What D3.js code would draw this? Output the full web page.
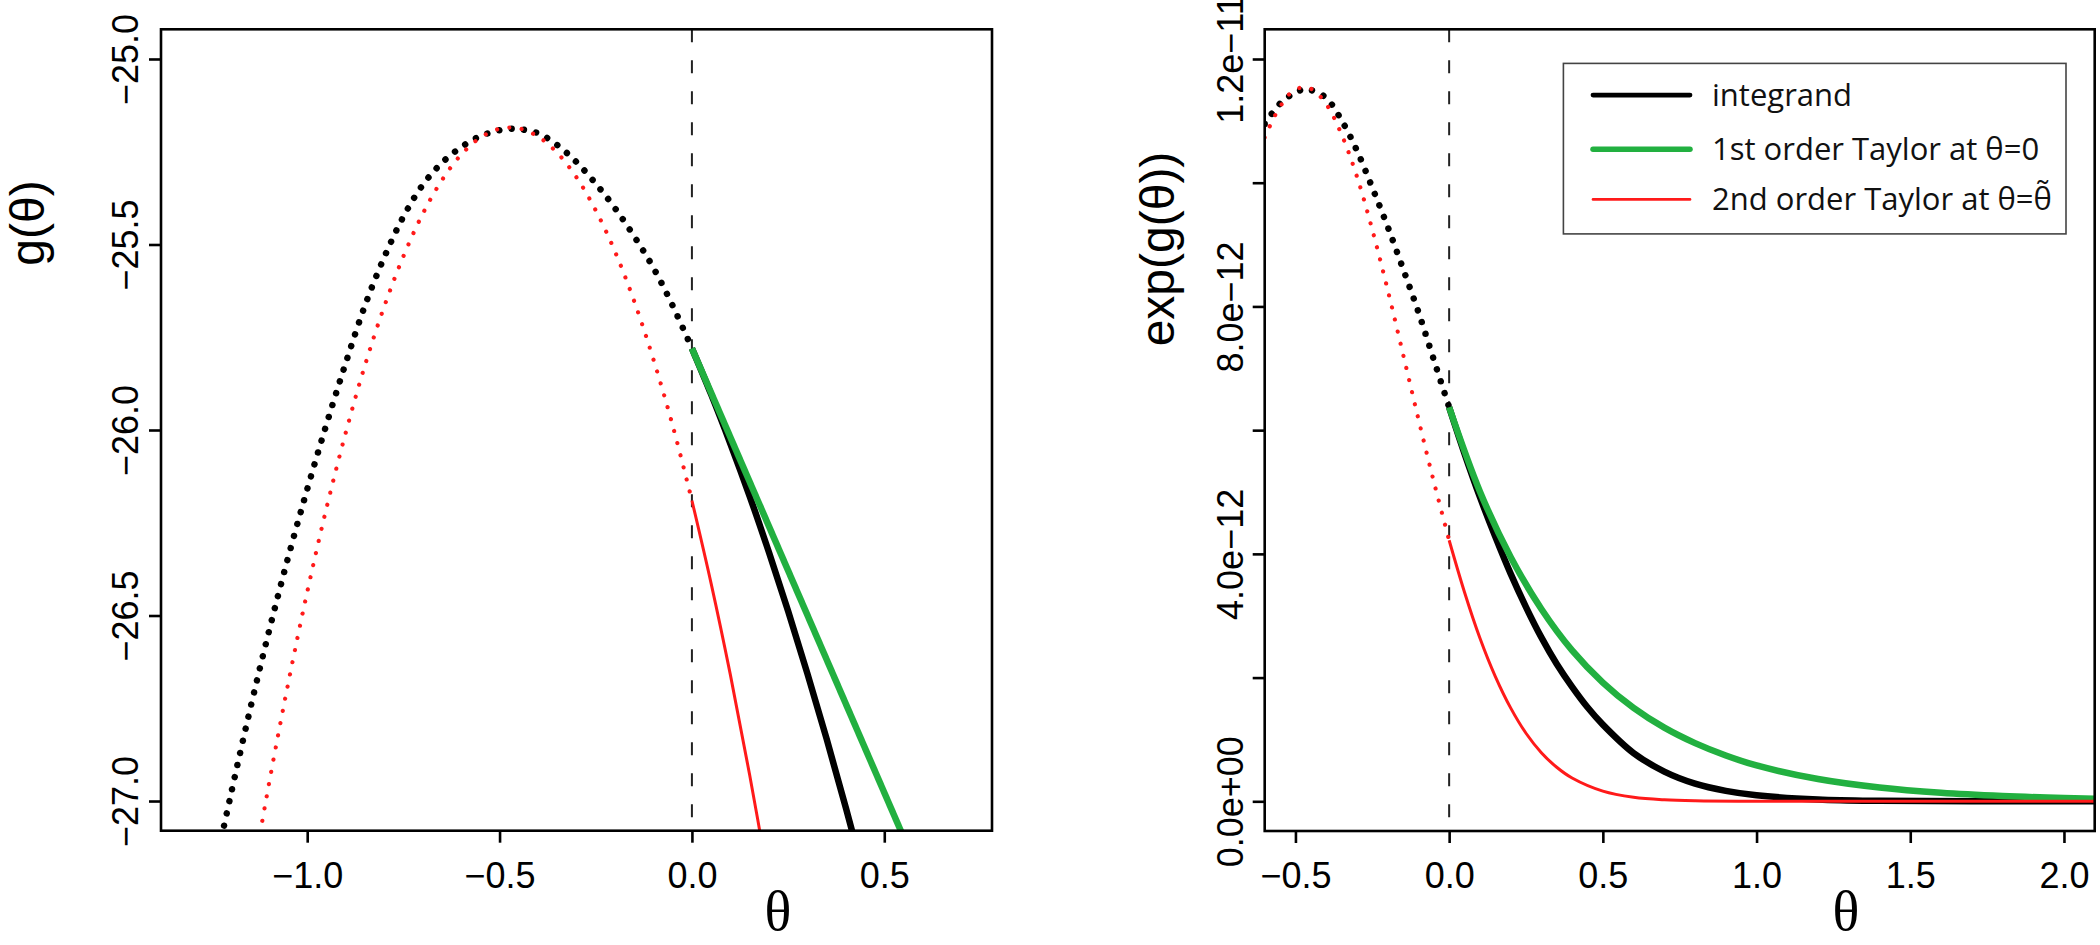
<!DOCTYPE html>
<html>
<head>
<meta charset="utf-8">
<script src="https://cdn.jsdelivr.net/npm/d3@7"></script>
<style>
  html, body { margin: 0; padding: 0; background: #fff; }
  svg { display: block; }
</style>
</head>
<body>
<svg id="chart" width="2100" height="945"></svg>
<script>
// ---------------- DATA ----------------
// Left panel: g(theta)
const leftBlackTheta = [-1.25, -1.20, -1.15, -1.10, -1.05, -1.00, -0.95, -0.90, -0.85, -0.80, -0.75, -0.70, -0.65, -0.60, -0.55, -0.50, -0.47, -0.45, -0.40, -0.35, -0.30, -0.25, -0.20, -0.15, -0.10, -0.05, 0.00, 0.05, 0.10, 0.15, 0.20, 0.25, 0.30, 0.35, 0.40, 0.45];
const leftBlackG     = [-27.23, -26.99, -26.76, -26.545, -26.345, -26.16, -25.985, -25.82, -25.665, -25.535, -25.425, -25.34, -25.28, -25.238, -25.208, -25.192, -25.188, -25.189, -25.200, -25.232, -25.278, -25.336, -25.402, -25.478, -25.563, -25.665, -25.78, -25.904, -26.037, -26.178, -26.329, -26.488, -26.656, -26.832, -27.018, -27.212];

const leftRedTheta = [-1.15, -1.10, -1.05, -1.00, -0.95, -0.90, -0.85, -0.80, -0.75, -0.70, -0.65, -0.60, -0.55, -0.50, -0.45, -0.40, -0.35, -0.30, -0.25, -0.20, -0.15, -0.10, -0.05, 0.00, 0.05, 0.10, 0.15, 0.20];
const leftRedG     = [-27.251, -26.957, -26.686, -26.437, -26.211, -26.008, -25.826, -25.668, -25.532, -25.418, -25.327, -25.258, -25.212, -25.188, -25.187, -25.209, -25.253, -25.319, -25.408, -25.519, -25.653, -25.81, -25.988, -26.19, -26.414, -26.66, -26.929, -27.22];

const leftGreenTheta = [0.00, 0.56];
const leftGreenG     = [-25.78, -27.121];

// Right panel: exp(g(theta)), values in units of 1e-12
const rightBlackTheta = [-0.60, -0.55, -0.50, -0.47, -0.45, -0.40, -0.35, -0.30, -0.25, -0.20, -0.15, -0.10, -0.05, 0.00, 0.05, 0.10, 0.15, 0.20, 0.25, 0.30, 0.35, 0.40, 0.45, 0.50, 0.60, 0.70, 0.80, 0.90, 1.00, 1.20, 1.40, 1.70, 2.10];
const rightBlackV     = [10.95, 11.28, 11.46, 11.51, 11.50, 11.37, 11.01, 10.52, 9.92, 9.29, 8.61, 7.91, 7.14, 6.37, 5.62, 4.92, 4.28, 3.68, 3.14, 2.65, 2.22, 1.85, 1.52, 1.24, 0.78, 0.48, 0.285, 0.168, 0.097, 0.029, 0.007, 0.001, 0.0];

const rightRedTheta = [-0.60, -0.55, -0.50, -0.45, -0.40, -0.35, -0.30, -0.25, -0.20, -0.15, -0.10, -0.05, 0.00, 0.05, 0.10, 0.15, 0.20, 0.25, 0.30, 0.35, 0.40, 0.50, 0.60, 0.70, 0.80, 1.00, 1.50, 2.10];
const rightRedV     = [10.73, 11.23, 11.51, 11.52, 11.27, 10.78, 10.10, 9.24, 8.27, 7.23, 6.18, 5.17, 4.22, 3.38, 2.64, 2.02, 1.51, 1.10, 0.786, 0.55, 0.376, 0.164, 0.065, 0.024, 0.008, 0.0005, 0.0, 0.0];

const rightGreenTheta = [0.00, 0.10, 0.20, 0.30, 0.40, 0.50, 0.60, 0.70, 0.80, 0.90, 1.00, 1.20, 1.40, 1.60, 1.80, 2.00, 2.10];
const rightGreenV     = [6.37, 5.01, 3.95, 3.11, 2.44, 1.92, 1.51, 1.19, 0.94, 0.74, 0.58, 0.36, 0.223, 0.138, 0.086, 0.053, 0.042];

// Axes ticks and labels
const leftXTicks  = [-1.0, -0.5, 0.0, 0.5];
const leftYTicks  = [-27.0, -26.5, -26.0, -25.5, -25.0];
const rightXTicks = [-0.5, 0.0, 0.5, 1.0, 1.5, 2.0];
const rightYTicks = [0, 2, 4, 6, 8, 10, 12];
const rightYTickLabels = ["0.0e+00", "", "4.0e\u221212", "", "8.0e\u221212", "", "1.2e\u221211"];

const legendLabels = ["integrand", "1st order Taylor at \u03B8=0", "2nd order Taylor at \u03B8=\u03B8\u0303"];
const legendColors = ["#000000", "#22b040", "#ff1a1a"];

// ---------------- DRAWING ----------------
const svg = d3.select("#chart");
const BLACK = "#000000", GREEN = "#22b040", RED = "#ff1a1a";
const tickFont = "'Liberation Sans', Arial, Helvetica, sans-serif";
const minus = s => s.replace(/-/g, "\u2212");

function makePanel(cfg) {
  const g = svg.append("g");
  const x = d3.scaleLinear().domain(cfg.xDomain).range([cfg.left, cfg.right]);
  const y = d3.scaleLinear().domain(cfg.yDomain).range([cfg.bottom, cfg.top]);

  const clipId = "clip" + cfg.id;
  svg.append("defs").append("clipPath").attr("id", clipId)
    .append("rect").attr("x", cfg.left).attr("y", cfg.top)
    .attr("width", cfg.right - cfg.left).attr("height", cfg.bottom - cfg.top);

  const plot = g.append("g").attr("clip-path", `url(#${clipId})`);

  // dashed vertical line at theta = 0
  plot.append("line")
    .attr("x1", x(0)).attr("x2", x(0)).attr("y1", cfg.top).attr("y2", cfg.bottom)
    .attr("stroke", "#222").attr("stroke-width", 2).attr("stroke-dasharray", "13,18");

  const line = d3.line().x(d => x(d[0])).y(d => y(d[1])).curve(d3.curveCatmullRom.alpha(0.5));

  function drawSeries(thetas, vals, color, width, dotW) {
    const pts = thetas.map((t, i) => [t, vals[i]]);
    const neg = pts.filter(p => p[0] <= 0);
    const pos = pts.filter(p => p[0] >= 0);
    if (neg.length > 1) {
      plot.append("path").datum(neg).attr("d", line)
        .attr("fill", "none").attr("stroke", color).attr("stroke-width", dotW)
        .attr("stroke-linecap", "round").attr("stroke-dasharray", "0.01,12.4");
    }
    if (pos.length > 1) {
      plot.append("path").datum(pos).attr("d", line)
        .attr("fill", "none").attr("stroke", color).attr("stroke-width", width)
        .attr("stroke-linejoin", "round");
    }
  }
  cfg.series.forEach(s => drawSeries(s[0], s[1], s[2], s[3], s[4]));

  // frame
  g.append("rect").attr("x", cfg.left).attr("y", cfg.top)
    .attr("width", cfg.right - cfg.left).attr("height", cfg.bottom - cfg.top)
    .attr("fill", "none").attr("stroke", "#000").attr("stroke-width", 2.6);

  // x axis
  const xa = g.append("g").attr("transform", `translate(0,${cfg.bottom})`)
    .call(d3.axisBottom(x).tickValues(cfg.xTicks).tickSize(12).tickSizeOuter(0)
      .tickFormat(d => minus(d3.format(".1f")(d))));
  xa.select(".domain").remove();
  xa.selectAll(".tick line").attr("stroke", "#000").attr("stroke-width", 2.6);
  xa.selectAll(".tick text").attr("y", 57).attr("dy", 0)
    .attr("font-family", tickFont).attr("font-size", 36).attr("fill", "#000");

  // y axis
  const ya = g.append("g").attr("transform", `translate(${cfg.left},0)`)
    .call(d3.axisLeft(y).tickValues(cfg.yTicks).tickSize(12).tickSizeOuter(0)
      .tickFormat(cfg.yFormat));
  ya.select(".domain").remove();
  ya.selectAll(".tick line").attr("stroke", "#000").attr("stroke-width", 2.6);
  ya.selectAll(".tick text")
    .attr("x", 0).attr("y", -cfg.yLabelOffset).attr("dy", 0)
    .attr("transform", "rotate(-90)").attr("text-anchor", "middle")
    .attr("font-family", tickFont).attr("font-size", 36).attr("fill", "#000");

  // axis titles
  g.append("text")
    .attr("transform", `translate(${cfg.yTitleX},${cfg.yTitleY}) rotate(-90)`)
    .attr("text-anchor", "middle").attr("font-family", tickFont).attr("font-size", 48)
    .text(cfg.yTitle);
  g.append("text")
    .attr("x", cfg.xTitleX).attr("y", 930).attr("text-anchor", "middle")
    .attr("font-family", "'Liberation Serif', 'Times New Roman', serif").attr("font-size", 56)
    .text("\u03B8");

  return { x, y, g };
}

makePanel({
  id: "L", left: 161, right: 992, top: 29.3, bottom: 830.7,
  xDomain: [-1.38, 0.78], yDomain: [-27.08, -24.92],
  xTicks: leftXTicks, yTicks: leftYTicks,
  yFormat: d => minus(d3.format(".1f")(d)), yLabelOffset: 23,
  yTitle: "g(\u03B8)", yTitleX: 44, yTitleY: 223, xTitleX: 778,
  series: [
    [leftBlackTheta, leftBlackG, BLACK, 6.5, 6.5],
    [leftGreenTheta, leftGreenG, GREEN, 6.5, 6.5],
    [leftRedTheta, leftRedG, RED, 3, 4.2]
  ]
});

makePanel({
  id: "R", left: 1264.7, right: 2094.7, top: 29.3, bottom: 831,
  xDomain: [-0.6, 2.1], yDomain: [-0.48, 12.48],
  xTicks: rightXTicks, yTicks: rightYTicks,
  yFormat: (d, i) => rightYTickLabels[rightYTicks.indexOf(d)], yLabelOffset: 22,
  yTitle: "exp(g(\u03B8))", yTitleX: 1174, yTitleY: 249, xTitleX: 1846,
  series: [
    [rightBlackTheta, rightBlackV, BLACK, 6.5, 6.5],
    [rightGreenTheta, rightGreenV, GREEN, 6.5, 6.5],
    [rightRedTheta, rightRedV, RED, 3, 4.2]
  ]
});

// legend
const lg = svg.append("g");
lg.append("rect").attr("x", 1563.4).attr("y", 63.4).attr("width", 2066 - 1563.4).attr("height", 233.9 - 63.4)
  .attr("fill", "#fff").attr("stroke", "#444").attr("stroke-width", 1.6);
const rowY = [95.1, 149.2, 199.4];
const rowW = [4.8, 5.5, 2.6];
legendLabels.forEach((lab, i) => {
  lg.append("line").attr("x1", 1593).attr("x2", 1690).attr("y1", rowY[i]).attr("y2", rowY[i])
    .attr("stroke", legendColors[i]).attr("stroke-width", rowW[i]).attr("stroke-linecap", "round");
  lg.append("text").attr("x", 1712).attr("y", rowY[i] + 11)
    .attr("font-family", "'Open Sans', 'Noto Sans', sans-serif").attr("font-size", 31).attr("fill", "#111")
    .text(lab);
});
</script>
</body>
</html>
